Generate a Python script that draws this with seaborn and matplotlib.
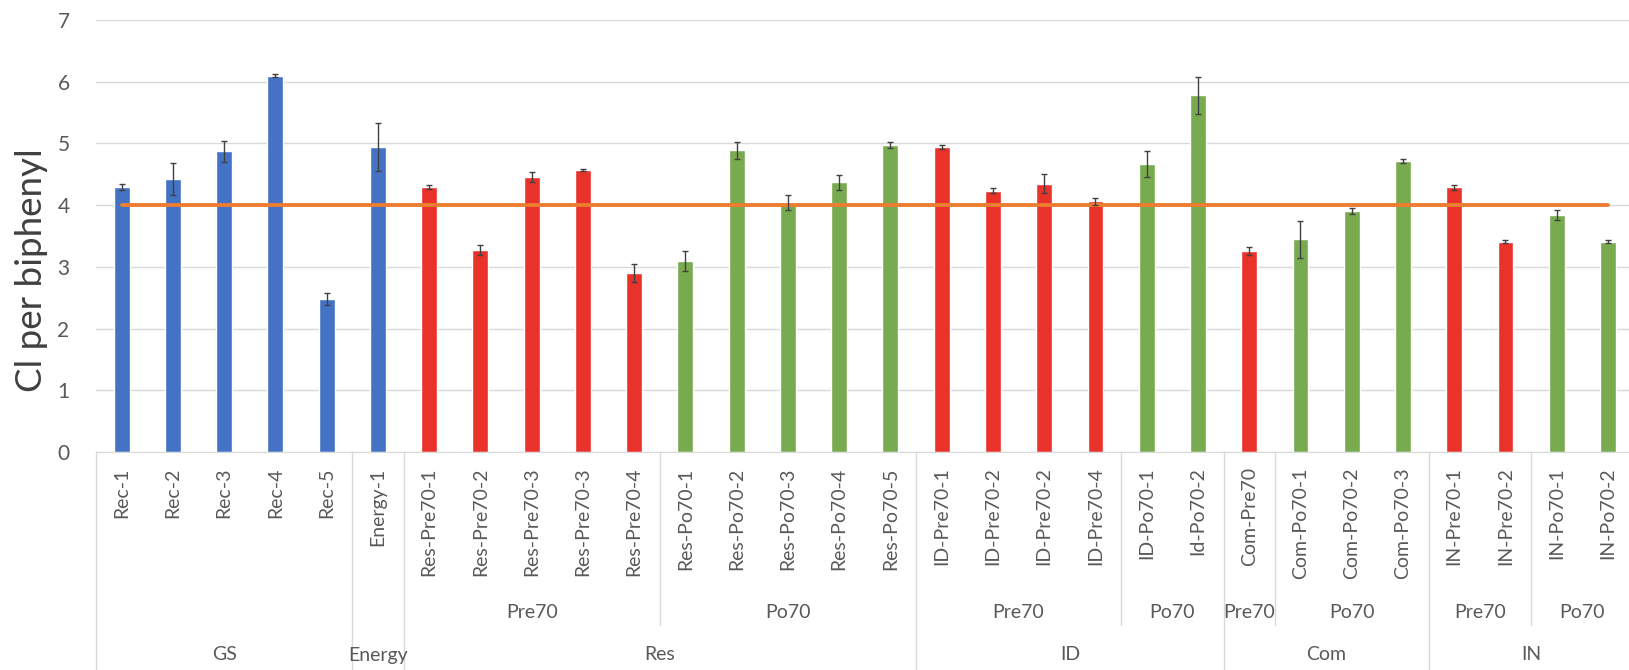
import numpy as np
import pandas as pd
import matplotlib.pyplot as plt
import matplotlib.transforms as mtransforms
import seaborn as sns

# bar labels (level 1), values and error bars
labels = ['Rec-1', 'Rec-2', 'Rec-3', 'Rec-4', 'Rec-5', 'Energy-1',
          'Res-Pre70-1', 'Res-Pre70-2', 'Res-Pre70-3', 'Res-Pre70-3', 'Res-Pre70-4',
          'Res-Po70-1', 'Res-Po70-2', 'Res-Po70-3', 'Res-Po70-4', 'Res-Po70-5',
          'ID-Pre70-1', 'ID-Pre70-2', 'ID-Pre70-2', 'ID-Pre70-4',
          'ID-Po70-1', 'Id-Po70-2',
          'Com-Pre70', 'Com-Po70-1', 'Com-Po70-2', 'Com-Po70-3',
          'IN-Pre70-1', 'IN-Pre70-2', 'IN-Po70-1', 'IN-Po70-2']
values = [4.29, 4.43, 4.87, 6.10, 2.48, 4.94,
          4.29, 3.28, 4.45, 4.57, 2.90,
          3.10, 4.89, 4.04, 4.37, 4.97,
          4.94, 4.23, 4.35, 4.06,
          4.67, 5.78,
          3.26, 3.45, 3.91, 4.71,
          4.29, 3.41, 3.84, 3.41]
errors = [0.05, 0.26, 0.17, 0.03, 0.09, 0.39,
          0.03, 0.08, 0.08, 0.01, 0.15,
          0.16, 0.14, 0.12, 0.12, 0.05,
          0.03, 0.04, 0.16, 0.05,
          0.21, 0.30,
          0.06, 0.30, 0.05, 0.03,
          0.04, 0.03, 0.08, 0.03]
# level 2 and level 3 of the category axis
sub_group = [''] * 6 + ['Pre70'] * 5 + ['Po70'] * 5 + ['Pre70'] * 4 + ['Po70'] * 2 \
    + ['Pre70'] + ['Po70'] * 3 + ['Pre70'] * 2 + ['Po70'] * 2
main_group = ['GS'] * 5 + ['Energy'] + ['Res'] * 10 + ['ID'] * 6 + ['Com'] * 4 + ['IN'] * 4
threshold = 4

colors = {'GS': '#4472C4', 'Pre70': '#E8322A', 'Po70': '#78AA50'}
era = ['GS' if s == '' else s for s in sub_group]

df = pd.DataFrame({'pos': range(len(labels)), 'value': values, 'err': errors, 'era': era})

sns.set_style('white')
plt.rcParams['font.family'] = ['Lato', 'DejaVu Sans']

W, H = 1629, 670
fig = plt.figure(figsize=(W / 100, H / 100), dpi=100)
ax = fig.add_axes([96 / W, 1 - 452 / H, 1 - 96 / W, 432 / H])

sns.barplot(data=df, x='pos', y='value', hue='era', palette=colors, dodge=False,
            width=0.31, saturation=1, legend=False, ax=ax, zorder=2)
ax.errorbar(df['pos'], df['value'], yerr=df['err'], fmt='none', ecolor='#404040',
            elinewidth=1, capsize=2.5, capthick=1, zorder=5)
ax.plot([0, len(labels) - 1], [threshold, threshold], color='#ED7D31', lw=2.8, zorder=4)

ax.set_xlim(-0.5, 29.41)
ax.set_ylim(0, 7)
ax.set_yticks(range(8))
ax.grid(axis='y', color='#D9D9D9', lw=1)
ax.set_axisbelow(True)
for s in ['top', 'right', 'left']:
    ax.spines[s].set_visible(False)
ax.spines['bottom'].set_color('#D9D9D9')

ax.set_xticks(df['pos'], labels, rotation=90)
ax.tick_params(axis='x', length=0, pad=11, labelsize=14, labelcolor='#595959')
ax.tick_params(axis='y', length=0, pad=19, labelsize=15, labelcolor='#595959')
ax.set_xlabel('')
ax.set_ylabel('Cl per biphenyl', fontsize=26.5, color='#404040')
ax.yaxis.set_label_coords(-0.042, 0.42)
ax.yaxis.label.set_va('center')

# multi-level category axis below the bars
trans = mtransforms.blended_transform_factory(ax.transData, fig.transFigure)


def runs(keys):
    out = []
    start = 0
    for i in range(1, len(keys) + 1):
        if i == len(keys) or keys[i] != keys[start]:
            out.append((start, i - 1, keys[start]))
            start = i
    return out


line_kw = dict(color='#D9D9D9', lw=1, transform=trans, clip_on=False)
main_starts = set()
for a, b, name in runs(main_group):
    main_starts.add(a)
    ax.text((a + b) / 2, 1 - 655 / H, name, transform=trans, ha='center', va='center',
            fontsize=14, color='#595959')
    ax.plot([a - 0.5, a - 0.5], [1 - 452 / H, 0], **line_kw)

for a, b, key in runs(list(zip(main_group, sub_group))):
    if key[1] == '':
        continue
    ax.text((a + b) / 2, 1 - 612 / H, key[1], transform=trans, ha='center', va='center',
            fontsize=14, color='#595959')
    if a not in main_starts:
        ax.plot([a - 0.5, a - 0.5], [1 - 452 / H, 1 - 625 / H], **line_kw)

fig.savefig('out.png', dpi=100)
